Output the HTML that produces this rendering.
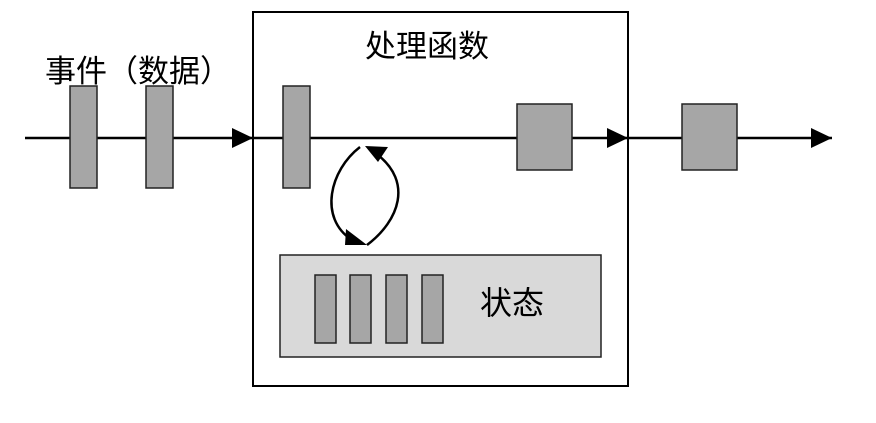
<!DOCTYPE html>
<html><head><meta charset="utf-8"><style>
html,body{margin:0;padding:0;background:#fff;}
text{font-family:"Liberation Sans","Noto Sans CJK SC",sans-serif;fill:#000;}
</style></head><body>
<svg width="876" height="418" xmlns="http://www.w3.org/2000/svg">
<rect x="253" y="12" width="375" height="374" fill="#fff" stroke="#000" stroke-width="2"/>
<line x1="25" y1="138" x2="253" y2="138" stroke="#000" stroke-width="2.5"/>
<path d="M232,128 L253,138 L232,148z"/>
<line x1="253" y1="138" x2="628" y2="138" stroke="#000" stroke-width="2.5"/>
<path d="M607,128 L628,138 L607,148z"/>
<line x1="628" y1="138" x2="832" y2="138" stroke="#000" stroke-width="2.5"/>
<path d="M811,128 L832,138 L811,148z"/>
<g fill="#a6a6a6" stroke="#222" stroke-width="1.5">
<rect x="70" y="86" width="27" height="102"/>
<rect x="146" y="86" width="27" height="102"/>
<rect x="283" y="86" width="27" height="102"/>
<rect x="517" y="104" width="55" height="66"/>
<rect x="682" y="104" width="55" height="66"/>
</g>
<rect x="280" y="255" width="321" height="102" fill="#d9d9d9" stroke="#222" stroke-width="1.5"/>
<g fill="#a6a6a6" stroke="#222" stroke-width="1.5">
<rect x="315" y="275" width="21" height="68"/>
<rect x="350" y="275" width="21" height="68"/>
<rect x="386" y="275" width="21" height="68"/>
<rect x="422" y="275" width="21" height="68"/>
</g>
<path d="M360,147 C330,170 318,218 352,240" fill="none" stroke="#000" stroke-width="2.5"/>
<path d="M346,229 L367,245 L345,245z"/>
<path d="M367,245 C400,220 412,182 378,155" fill="none" stroke="#000" stroke-width="2.5"/>
<path d="M365,146 L388,147 L378,162z"/>
<text x="45" y="82" font-size="31">事件（数据）</text>
<text x="365" y="57" font-size="31">处理函数</text>
<text x="480" y="314" font-size="32">状态</text>
</svg>
</body></html>
